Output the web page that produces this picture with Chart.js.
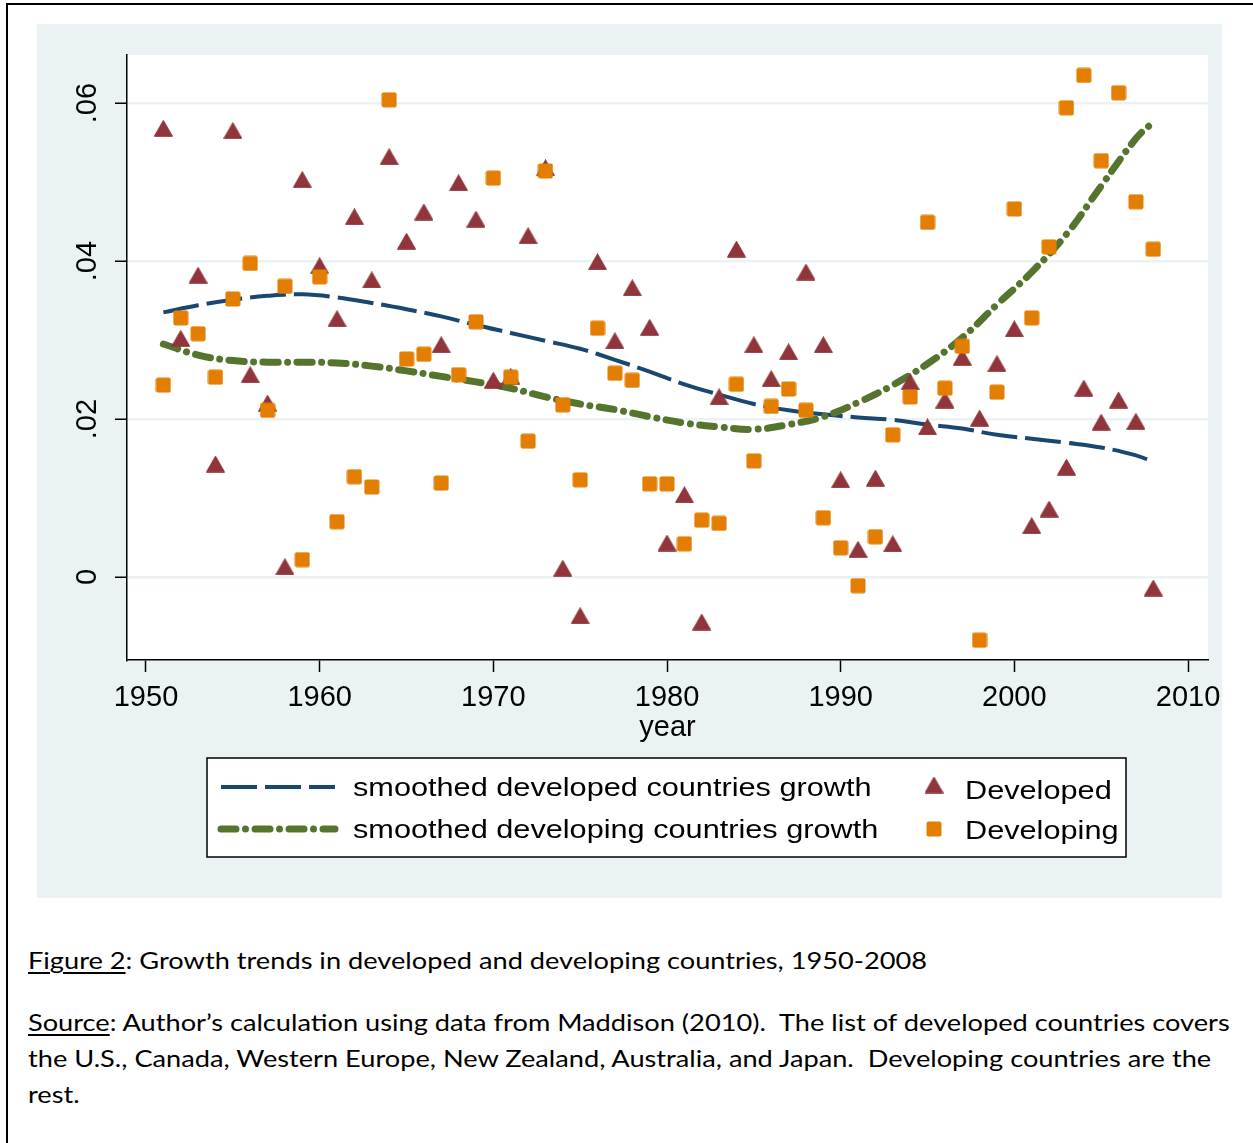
<!DOCTYPE html>
<html>
<head>
<meta charset="utf-8">
<script src="https://cdn.jsdelivr.net/npm/chart.js@4.4.0/dist/chart.umd.min.js"></script>
<style>
    body { margin: 0; background: #fff; width: 1253px; height: 1143px; overflow: hidden; position: relative; }
    #frame { position: absolute; left: 6px; top: 3px; width: 1270px; height: 1170px; border: 2px solid #000; }
    #panel { position: absolute; left: 37px; top: 24px; width: 1185px; height: 874px; }
    .cap { position: absolute; left: 28px; font-family: Lato, 'Open Sans', sans-serif; font-size: 24px; color: #000; line-height: 36px; white-space: nowrap; transform: scaleX(1.133); transform-origin: 0 0; }
    .cap u { text-decoration-thickness: 1.5px; text-underline-offset: 3px; }
</style>
</head>
<body>
<div id="frame"></div>
<div id="panel"><canvas id="growthChart"></canvas></div>
<div class="cap" style="top:942px"><u>Figure 2</u>: Growth trends in developed and developing countries, 1950-2008</div>
<div class="cap" style="top:1004px"><u>Source</u>: Author’s calculation using data from Maddison (2010).&nbsp; The list of developed countries covers<br>the U.S., Canada, Western Europe, New Zealand, Australia, and Japan.&nbsp; Developing countries are the<br>rest.</div>
<script>
const years = [
    1951, 1952, 1953, 1954, 1955, 1956, 1957, 1958, 1959, 1960,
    1961, 1962, 1963, 1964, 1965, 1966, 1967, 1968, 1969, 1970,
    1971, 1972, 1973, 1974, 1975, 1976, 1977, 1978, 1979, 1980,
    1981, 1982, 1983, 1984, 1985, 1986, 1987, 1988, 1989, 1990,
    1991, 1992, 1993, 1994, 1995, 1996, 1997, 1998, 1999, 2000,
    2001, 2002, 2003, 2004, 2005, 2006, 2007, 2008,
];
const developedGrowth = [
    0.0568, 0.0302, 0.0382, 0.0143, 0.0565, 0.0256, 0.0220, 0.0013, 0.0503, 0.0394,
    0.0327, 0.0456, 0.0376, 0.0532, 0.0425, 0.0462, 0.0294, 0.0499, 0.0453, 0.0249,
    0.0254, 0.0432, 0.0518, 0.0011, -0.0049, 0.0399, 0.0299, 0.0366, 0.0316, 0.0043,
    0.0104, -0.0057, 0.0228, 0.0415, 0.0294, 0.0251, 0.0285, 0.0386, 0.0294, 0.0123,
    0.0035, 0.0125, 0.0042, 0.0247, 0.0190, 0.0224, 0.0278, 0.0201, 0.0270, 0.0314,
    0.0065, 0.0086, 0.0139, 0.0239, 0.0196, 0.0224, 0.0197, -0.0014,
];
const developingGrowth = [
    0.0243, 0.0328, 0.0308, 0.0253, 0.0352, 0.0397, 0.0211, 0.0368, 0.0022, 0.0380,
    0.0070, 0.0127, 0.0114, 0.0604, 0.0276, 0.0282, 0.0119, 0.0256, 0.0323, 0.0505,
    0.0253, 0.0172, 0.0514, 0.0218, 0.0123, 0.0315, 0.0258, 0.0249, 0.0118, 0.0118,
    0.0042, 0.0072, 0.0068, 0.0244, 0.0147, 0.0216, 0.0238, 0.0211, 0.0075, 0.0037,
    -0.0011, 0.0051, 0.0180, 0.0228, 0.0449, 0.0239, 0.0292, -0.0080, 0.0234, 0.0466,
    0.0328, 0.0418, 0.0594, 0.0635, 0.0527, 0.0613, 0.0475, 0.0415,
];
const smoothYears = [
    1951, 1953, 1955, 1957, 1959, 1961, 1963, 1965, 1967, 1969,
    1971, 1973, 1975, 1977, 1979, 1981, 1983, 1985, 1987, 1989,
    1991, 1993, 1995, 1997, 1999, 2001, 2003, 2005, 2007, 2008,
];
const smoothDeveloped = [
    0.0335, 0.0344, 0.0351, 0.0356, 0.0358, 0.0354, 0.0347, 0.0339, 0.0330, 0.0319,
    0.0309, 0.0299, 0.0289, 0.0275, 0.0260, 0.0244, 0.0231, 0.0219, 0.0211, 0.0206,
    0.0202, 0.0199, 0.0193, 0.0188, 0.0180, 0.0175, 0.0170, 0.0164, 0.0154, 0.0146,
];
const smoothDeveloping = [
    0.0295, 0.0281, 0.0274, 0.0272, 0.0272, 0.0271, 0.0267, 0.0261, 0.0254, 0.0247,
    0.0239, 0.0228, 0.0219, 0.0212, 0.0203, 0.0195, 0.0190, 0.0187, 0.0193, 0.0203,
    0.0221, 0.0243, 0.0270, 0.0303, 0.0345, 0.0386, 0.0434, 0.0495, 0.0555, 0.0576,
];
const xTicks = [1950, 1960, 1970, 1980, 1990, 2000, 2010];
const yTicks = [0, 0.02, 0.04, 0.06];
const yTickLabels = ['0', '.02', '.04', '.06'];

const NAVY = '#1a476f';
const MAROON = '#90353b';
const GREEN = '#55752f';
const ORANGE = '#e37e00';
const PANEL = '#eaf2f3';

// marker images, so the shapes sit centred on their values
function markerImage(kind) {
    const c = document.createElement('canvas');
    const g = c.getContext('2d');
    if (kind === 'triangle') {
        c.width = 19;
        c.height = 17;
        g.fillStyle = MAROON;
        g.strokeStyle = MAROON;
        g.lineJoin = 'round';
        g.lineWidth = 1;
        g.beginPath();
        g.moveTo(9.5, 0.5);
        g.lineTo(18.5, 16.3);
        g.lineTo(0.5, 16.3);
        g.closePath();
        g.fill();
        g.stroke();
    } else {
        c.width = 16;
        c.height = 16;
        g.fillStyle = ORANGE;
        g.beginPath();
        g.roundRect(0.5, 0.5, 15, 15, 2);
        g.fill();
    }
    return c;
}
const triangleImg = markerImage('triangle');
const squareImg = markerImage('square');

const panelBackground = {
    id: 'panelBackground',
    beforeDraw(chart) {
        const { ctx, chartArea } = chart;
        ctx.save();
        ctx.fillStyle = PANEL;
        ctx.fillRect(0, 0, chart.width, chart.height);
        ctx.fillStyle = '#fff';
        ctx.fillRect(chartArea.left, chartArea.top, chartArea.right - chartArea.left, chartArea.bottom - chartArea.top);
        ctx.restore();
    },
};

// two-column boxed legend like the Stata one
const boxLegend = {
    id: 'boxLegend',
    afterDraw(chart) {
        const ctx = chart.ctx;
        const sets = chart.data.datasets;
        ctx.save();
        ctx.fillStyle = '#fff';
        ctx.fillRect(170, 734, 919, 99);
        ctx.strokeStyle = '#000';
        ctx.lineWidth = 1.5;
        ctx.strokeRect(170, 734, 919, 99);

        ctx.font = '26px "Liberation Sans", Arial, sans-serif';
        ctx.fillStyle = '#000';
        ctx.textBaseline = 'middle';
        const text = (label, x, y) => {
            ctx.save();
            ctx.translate(x, y);
            ctx.scale(1.18, 1);
            ctx.fillText(label, 0, 0);
            ctx.restore();
        };

        const lineRows = [sets[3], sets[2]];
        lineRows.forEach((ds, i) => {
            const y = 763 + i * 42;
            ctx.save();
            ctx.strokeStyle = ds.borderColor;
            ctx.lineWidth = ds.borderWidth;
            ctx.lineCap = ds.borderCapStyle;
            ctx.setLineDash(ds.borderDash);
            ctx.beginPath();
            ctx.moveTo(184, y);
            ctx.lineTo(298, y);
            ctx.stroke();
            ctx.restore();
            text(ds.label, 316, y + 2);
        });

        const markRows = [sets[1], sets[0]];
        markRows.forEach((ds, i) => {
            const y = 761 + i * 44;
            const img = ds.pointStyle;
            ctx.drawImage(img, 897 - img.width / 2, y - img.height / 2);
            text(ds.label, 928, 768 + i * 40);
        });
        ctx.restore();
    },
};

const tickFont = { family: '"Liberation Sans", Arial, sans-serif', size: 29 };

new Chart(document.getElementById('growthChart').getContext('2d'), {
    type: 'scatter',
    data: {
        datasets: [
            {
                label: 'Developing',
                data: years.map((yr, i) => ({ x: yr, y: developingGrowth[i] })),
                pointStyle: squareImg,
                pointRadius: 8,
                order: 0,
            },
            {
                label: 'Developed',
                data: years.map((yr, i) => ({ x: yr, y: developedGrowth[i] })),
                pointStyle: triangleImg,
                pointRadius: 9,
                order: 1,
            },
            {
                type: 'line',
                label: 'smoothed developing countries growth',
                data: smoothYears.map((yr, i) => ({ x: yr, y: smoothDeveloping[i] })),
                borderColor: GREEN,
                borderWidth: 7,
                borderCapStyle: 'round',
                borderDash: [15, 9.5, 0.01, 9.5],
                pointRadius: 0,
                tension: 0.4,
                fill: false,
                order: 2,
            },
            {
                type: 'line',
                label: 'smoothed developed countries growth',
                data: smoothYears.map((yr, i) => ({ x: yr, y: smoothDeveloped[i] })),
                borderColor: NAVY,
                borderWidth: 4,
                borderCapStyle: 'butt',
                borderDash: [36, 8],
                pointRadius: 0,
                tension: 0.4,
                fill: false,
                order: 3,
            },
        ],
    },
    options: {
        responsive: true,
        maintainAspectRatio: false,
        animation: false,
        layout: {
            padding: { top: 31, right: 14, bottom: 152.6, left: 0 },
        },
        plugins: {
            legend: { display: false },
            tooltip: { enabled: false },
        },
        scales: {
            x: {
                type: 'linear',
                min: 1948.906,
                max: 2011.15,
                afterBuildTicks: (scale) => {
                    scale.ticks = xTicks.map((v) => ({ value: v }));
                },
                afterFit: (scale) => {
                    scale.height = 85.4;
                    scale.paddingLeft = 0;
                    scale.paddingRight = 0;
                },
                grid: {
                    drawOnChartArea: false,
                    tickLength: 12,
                    tickColor: '#000',
                    tickWidth: 1.5,
                },
                border: { display: true, color: '#000', width: 1.5 },
                ticks: {
                    color: '#000',
                    font: tickFont,
                    padding: 9,
                    maxRotation: 0,
                    callback: (v) => String(v),
                },
                title: {
                    display: true,
                    text: 'year',
                    color: '#000',
                    font: tickFont,
                    padding: 0,
                },
            },
            y: {
                min: -0.0105,
                max: 0.06608,
                afterBuildTicks: (scale) => {
                    scale.ticks = yTicks.map((v) => ({ value: v }));
                },
                afterFit: (scale) => {
                    scale.width = 90;
                    scale.paddingTop = 0;
                    scale.paddingBottom = 0;
                },
                grid: {
                    color: PANEL,
                    lineWidth: 2.5,
                    tickLength: 12,
                    tickColor: '#000',
                    tickWidth: 1.5,
                },
                border: { display: true, color: '#000', width: 1.5 },
                ticks: {
                    color: '#000',
                    font: tickFont,
                    padding: 7,
                    minRotation: 90,
                    maxRotation: 90,
                    crossAlign: 'center',
                    callback: (v) => yTickLabels[yTicks.indexOf(v)] ?? '',
                },
            },
        },
    },
    plugins: [panelBackground, boxLegend],
});
</script>
</body>
</html>
